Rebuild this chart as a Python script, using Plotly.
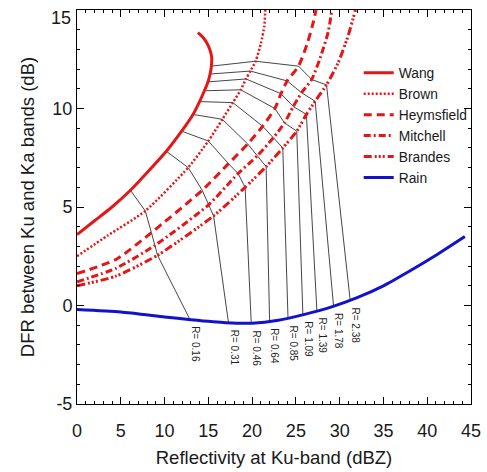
import numpy as np
import plotly.graph_objects as go

# ---------------- data ----------------
R_values = ["0.16", "0.31", "0.46", "0.64", "0.85", "1.09", "1.39", "1.78", "2.38"]

# vertices (Ze at Ku, DFR) of each snow model at the R values above
wang_x = [6.1, 10.2, 11.95, 13.25, 14.0, 14.55, 14.95, 15.2, 15.35]
wang_y = [5.85, 7.83, 8.85, 9.7, 10.35, 10.9, 11.35, 11.75, 12.15]
brown_x = [7.8, 12.7, 15.0, 16.6, 17.8, 18.7, 19.3, 19.8, 20.4]
brown_y = [4.8, 7.0, 8.35, 9.45, 10.3, 10.95, 11.5, 11.9, 12.4]
heym_x = [8.5, 14.3, 17.3, 19.5, 21.2, 22.6, 23.3, 24.0, 25.3]
heym_y = [3.7, 5.85, 7.2, 8.2, 9.1, 10.0, 10.75, 11.4, 12.15]
mitch_x = [8.9, 15.0, 18.4, 20.6, 22.4, 23.7, 24.7, 25.65, 26.8]
mitch_y = [3.05, 5.1, 6.7, 7.6, 8.5, 9.27, 10.1, 10.8, 11.47]
brand_x = [9.2, 15.6, 19.2, 21.6, 23.5, 25.1, 26.2, 27.2, 28.5]
brand_y = [2.55, 4.55, 6.0, 7.05, 8.0, 8.85, 9.7, 10.37, 11.2]
rain_end_x = [12.9, 17.3, 19.9, 22.0, 24.1, 25.8, 27.4, 29.3, 31.2]

# extra points of each curve outside the R range (head at low Ze, tail at top)
wang_head_x, wang_head_y = [0, 2, 4], [3.6, 4.3, 5.0]
wang_tail_x, wang_tail_y = [15.38, 15.2, 14.8, 14.3, 13.8], [12.6, 12.95, 13.35, 13.65, 13.85]
brown_head_x, brown_head_y = [0, 3.5], [2.5, 3.55]
brown_tail_x, brown_tail_y = [21.0, 21.4, 21.5], [13.3, 14.2, 15.0]
heym_head_x, heym_head_y = [0, 4.5], [1.62, 2.35]
heym_tail_x, heym_tail_y = [26.3, 27.0, 27.3], [13.3, 14.4, 15.0]
mitch_head_x, mitch_head_y = [0, 4.5], [1.2, 1.9]
mitch_tail_x, mitch_tail_y = [27.8, 28.7, 29.1], [12.6, 13.9, 15.0]
brand_head_x, brand_head_y = [0, 4.5], [1.0, 1.5]
brand_tail_x, brand_tail_y = [29.8, 30.9, 31.8], [12.3, 13.6, 15.0]

rain_x = [0, 5, 10, 13, 17, 20, 23, 26, 29, 32, 35, 38, 41, 44.3]
rain_y = [-0.2, -0.33, -0.58, -0.72, -0.87, -0.9, -0.75, -0.45, -0.08, 0.4, 1.0, 1.75, 2.55, 3.5]

x_ticks = [0, 5, 10, 15, 20, 25, 30, 35, 40, 45]
y_ticks = [-5, 0, 5, 10, 15]

RED = "rgb(228,22,22)"
BLUE = "rgb(18,18,205)"
FONT = "Liberation Sans, Arial, sans-serif"
TXT = "rgb(25,25,25)"

fig = go.Figure()

rain_end_y = list(np.interp(rain_end_x, rain_x, rain_y))

# R lines (black, thin)
for i, r in enumerate(R_values):
    xs = [wang_x[i], brown_x[i], heym_x[i], mitch_x[i], brand_x[i], rain_end_x[i]]
    ys = [wang_y[i], brown_y[i], heym_y[i], mitch_y[i], brand_y[i], rain_end_y[i]]
    fig.add_trace(go.Scatter(x=xs, y=ys, mode="lines", showlegend=False,
                             line=dict(color="rgb(70,70,70)", width=1), hoverinfo="skip"))

models = [
    ("Wang", wang_head_x, wang_head_y, wang_x, wang_y, wang_tail_x, wang_tail_y, "solid", 3),
    ("Brown", brown_head_x, brown_head_y, brown_x, brown_y, brown_tail_x, brown_tail_y, "2px,2px", 2.5),
    ("Heymsfield", heym_head_x, heym_head_y, heym_x, heym_y, heym_tail_x, heym_tail_y, "8px,5px", 3),
    ("Mitchell", mitch_head_x, mitch_head_y, mitch_x, mitch_y, mitch_tail_x, mitch_tail_y, "7px,3px,2px,3px", 3),
    ("Brandes", brand_head_x, brand_head_y, brand_x, brand_y, brand_tail_x, brand_tail_y,
     "8px,3px,2px,2px,2px,2px,2px,3px", 3),
]
for name, hx, hy, vx, vy, tx, ty, dash, w in models:
    fig.add_trace(go.Scatter(x=hx + vx + tx, y=hy + vy + ty, mode="lines", name=name,
                             line=dict(color=RED, width=w, dash=dash, shape="spline", smoothing=0.6)))

fig.add_trace(go.Scatter(x=rain_x, y=rain_y, mode="lines", name="Rain",
                         line=dict(color=BLUE, width=3, shape="spline", smoothing=0.6)))

for i, r in enumerate(R_values):
    fig.add_annotation(x=rain_end_x[i], y=rain_end_y[i], text="R= " + r, textangle=90,
                       showarrow=False, xanchor="left", yanchor="top", xshift=-2, yshift=-5,
                       font=dict(size=10, color="rgb(30,30,30)", family=FONT))

# top y tick label sits a little below its tick in the reference
y_ticktext = [str(v) if v != y_ticks[-1] else "" for v in y_ticks]
fig.add_annotation(x=0, y=y_ticks[-1], xref="paper", yref="y", text=str(y_ticks[-1]),
                   showarrow=False, xanchor="right", yanchor="middle", xshift=-4, yshift=-8,
                   font=dict(size=18, color=TXT, family=FONT))

axis_common = dict(showgrid=False, zeroline=False, showline=True, linecolor="black", linewidth=1,
                   mirror="allticks", ticks="inside", ticklen=7, tickcolor="black", automargin=False,
                   tickfont=dict(size=18, color=TXT, family=FONT))

fig.update_xaxes(range=[0, 45], tickvals=x_ticks, ticktext=[str(v) for v in x_ticks],
                 minor=dict(dtick=1, ticks="inside", ticklen=3, tickcolor="black"),
                 title=dict(text="Reflectivity at Ku-band (dBZ)", standoff=11,
                            font=dict(size=18.5, color=TXT, family=FONT)),
                 ticklabelstandoff=10, **axis_common)
fig.update_yaxes(range=[-5, 15], tickvals=y_ticks, ticktext=y_ticktext,
                 minor=dict(dtick=1, ticks="inside", ticklen=3, tickcolor="black"),
                 title=dict(text="DFR between Ku and Ka bands (dB)", standoff=12,
                            font=dict(size=18.5, color=TXT, family=FONT)),
                 ticklabelstandoff=0, **axis_common)

fig.update_layout(
    width=487, height=472,
    margin=dict(l=77, r=16, t=10, b=68),
    paper_bgcolor="white", plot_bgcolor="white",
    showlegend=True,
    legend=dict(x=0.715, y=0.88, xanchor="left", yanchor="top", bgcolor="rgba(0,0,0,0)",
                font=dict(size=13.8, color=TXT, family=FONT),
                tracegroupgap=0, itemwidth=30),
)

fig.write_html("out.html", config={"displayModeBar": False},
               post_script="document.body.style.margin='0';")
